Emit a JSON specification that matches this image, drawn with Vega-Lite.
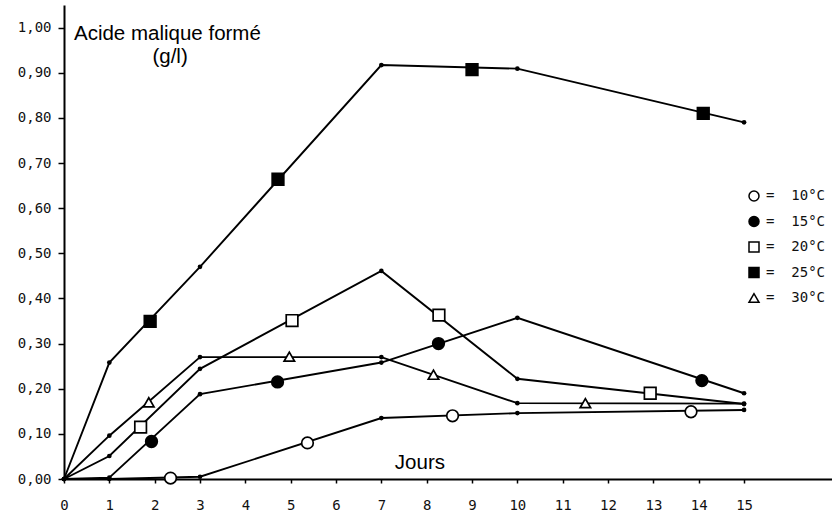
{
  "$schema": "https://vega.github.io/schema/vega-lite/v6.json",
  "width": 768,
  "height": 474,
  "autosize": {"type": "none"},
  "padding": {"left": 64, "top": 5, "right": 0, "bottom": 36},
  "background": "white",
  "config": {
    "view": {"stroke": null},
    "axis": {
      "domainColor": "black", "domainWidth": 2, "tickColor": "black", "tickWidth": 1.5,
      "labelFont": "DejaVu Sans Mono", "labelFontSize": 14, "labelColor": "#111", "grid": false, "title": null
    }
  },
  "datasets": {
    "lines": [
      {"series": "25°C", "day": 0, "value": 0},
      {"series": "25°C", "day": 1, "value": 0.258},
      {"series": "25°C", "day": 3, "value": 0.47},
      {"series": "25°C", "day": 7, "value": 0.917},
      {"series": "25°C", "day": 10, "value": 0.909},
      {"series": "25°C", "day": 15, "value": 0.79},
      {"series": "20°C", "day": 0, "value": 0},
      {"series": "20°C", "day": 1, "value": 0.051},
      {"series": "20°C", "day": 3, "value": 0.244},
      {"series": "20°C", "day": 7, "value": 0.461},
      {"series": "20°C", "day": 10, "value": 0.222},
      {"series": "20°C", "day": 15, "value": 0.166},
      {"series": "15°C", "day": 0, "value": 0},
      {"series": "15°C", "day": 1, "value": 0.003},
      {"series": "15°C", "day": 3, "value": 0.188},
      {"series": "15°C", "day": 7, "value": 0.258},
      {"series": "15°C", "day": 10, "value": 0.357},
      {"series": "15°C", "day": 15, "value": 0.19},
      {"series": "30°C", "day": 0, "value": 0},
      {"series": "30°C", "day": 1, "value": 0.096},
      {"series": "30°C", "day": 3, "value": 0.27},
      {"series": "30°C", "day": 7, "value": 0.27},
      {"series": "30°C", "day": 10, "value": 0.168},
      {"series": "30°C", "day": 15, "value": 0.167},
      {"series": "10°C", "day": 0, "value": 0},
      {"series": "10°C", "day": 1, "value": 0.0},
      {"series": "10°C", "day": 3, "value": 0.005},
      {"series": "10°C", "day": 7, "value": 0.135},
      {"series": "10°C", "day": 10, "value": 0.146},
      {"series": "10°C", "day": 15, "value": 0.153}
    ],
    "markers": [
      {"series": "10°C", "day": 2.35, "value": 0.002},
      {"series": "10°C", "day": 5.37, "value": 0.08},
      {"series": "10°C", "day": 8.57, "value": 0.14},
      {"series": "10°C", "day": 13.83, "value": 0.149},
      {"series": "15°C", "day": 1.93, "value": 0.083},
      {"series": "15°C", "day": 4.71, "value": 0.215},
      {"series": "15°C", "day": 8.26, "value": 0.3},
      {"series": "15°C", "day": 14.07, "value": 0.218},
      {"series": "20°C", "day": 1.69, "value": 0.115},
      {"series": "20°C", "day": 5.03, "value": 0.351},
      {"series": "20°C", "day": 8.27, "value": 0.363},
      {"series": "20°C", "day": 12.93, "value": 0.19},
      {"series": "25°C", "day": 1.9, "value": 0.349},
      {"series": "25°C", "day": 4.72, "value": 0.664},
      {"series": "25°C", "day": 9.0, "value": 0.907},
      {"series": "25°C", "day": 14.1, "value": 0.81},
      {"series": "30°C", "day": 1.87, "value": 0.17},
      {"series": "30°C", "day": 4.97, "value": 0.271},
      {"series": "30°C", "day": 8.15, "value": 0.231},
      {"series": "30°C", "day": 11.5, "value": 0.168}
    ],
    "one": [{}]
  },
  "layer": [
    {
      "data": {"name": "lines"},
      "mark": {"type": "line", "color": "black", "strokeWidth": 1.9},
      "encoding": {
        "x": {"field": "day", "type": "quantitative", "scale": {"domain": [0, 16.94], "nice": false, "zero": false},
              "axis": {"values": [0,1,2,3,4,5,6,7,8,9,10,11,12,13,14,15], "tickSize": 4, "labelPadding": 15, "labelFlush": false}},
        "y": {"field": "value", "type": "quantitative", "scale": {"domain": [0, 1.05], "nice": false},
              "axis": {"values": [0,0.1,0.2,0.3,0.4,0.5,0.6,0.7,0.8,0.9,1.0], "format": ".2f", "labelExpr": "replace(datum.label, '.', ',')", "tickSize": 6, "labelPadding": 7}},
        "detail": {"field": "series"}
      }
    },
    {
      "data": {"name": "lines"},
      "mark": {"type": "point", "filled": true, "color": "black", "size": 22, "opacity": 1},
      "encoding": {
        "x": {"field": "day", "type": "quantitative"},
        "y": {"field": "value", "type": "quantitative"}
      }
    },
    {
      "data": {"name": "markers"},
      "transform": [{"filter": "datum.series !== '30°C'"}],
      "mark": {"type": "point", "filled": true, "stroke": "black", "strokeWidth": 1.7, "opacity": 1, "size": 135},
      "encoding": {
        "x": {"field": "day", "type": "quantitative"},
        "y": {"field": "value", "type": "quantitative"},
        "shape": {"field": "series", "type": "nominal",
                  "scale": {"domain": ["10°C", "15°C", "20°C", "25°C", "30°C"], "range": ["circle", "circle", "square", "square", "triangle-up"]},
                  "legend": {"title": null, "orient": "none", "legendX": 683, "legendY": 184, "labelExpr": "'=\u00a0\u00a0' + datum.label",
                             "labelFont": "DejaVu Sans Mono", "labelFontSize": 14, "labelColor": "#111", "symbolSize": 100, "symbolStrokeWidth": 1.5,
                             "symbolStrokeColor": "black", "rowPadding": 9.5, "labelOffset": 5}},
        "color": {"field": "series", "type": "nominal",
                 "scale": {"domain": ["10°C", "15°C", "20°C", "25°C", "30°C"], "range": ["white", "black", "white", "black", "white"]}}
      }
    },
    {
      "data": {"name": "markers"},
      "transform": [{"filter": "datum.series === '30°C'"}],
      "mark": {"type": "point", "filled": true, "stroke": "black", "strokeWidth": 1.7, "opacity": 1, "size": 110},
      "encoding": {
        "x": {"field": "day", "type": "quantitative"},
        "y": {"field": "value", "type": "quantitative"},
        "shape": {"field": "series", "type": "nominal"},
        "color": {"field": "series", "type": "nominal"}
      }
    },
    {
      "data": {"name": "one"},
      "mark": {"type": "text", "font": "Liberation Sans", "fontSize": 20.5, "align": "left", "baseline": "middle", "color": "black", "text": "Acide malique formé"},
      "encoding": {"x": {"datum": 0.22}, "y": {"datum": 0.986}}
    },
    {
      "data": {"name": "one"},
      "mark": {"type": "text", "font": "Liberation Sans", "fontSize": 20.5, "align": "center", "baseline": "middle", "color": "black", "text": "(g/l)"},
      "encoding": {"x": {"datum": 2.34}, "y": {"datum": 0.934}}
    },
    {
      "data": {"name": "one"},
      "mark": {"type": "text", "font": "Liberation Sans", "fontSize": 20.5, "align": "center", "baseline": "middle", "color": "black", "text": "Jours"},
      "encoding": {"x": {"datum": 7.85}, "y": {"datum": 0.035}}
    }
  ]
}
